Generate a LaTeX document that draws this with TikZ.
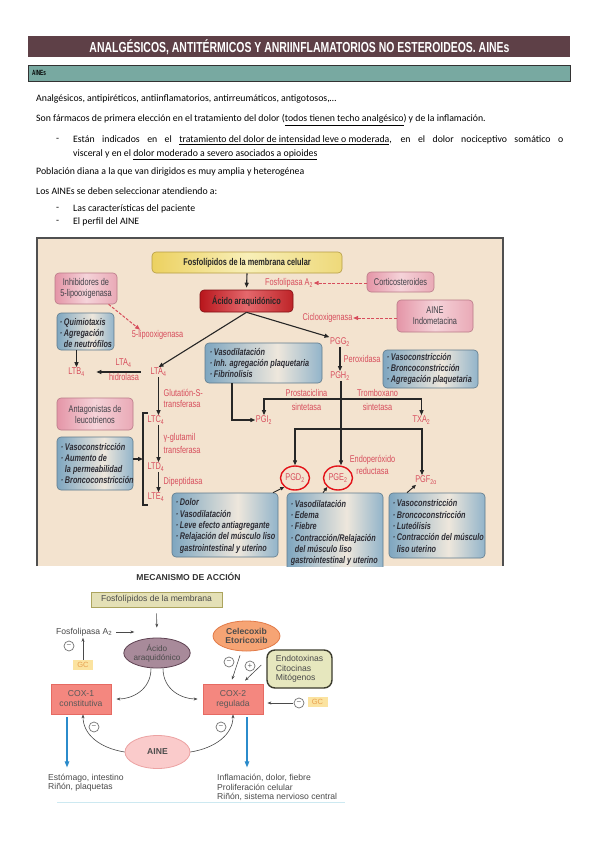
\documentclass[tikz,border=0pt]{standalone}
\usepackage{fontspec}
\setmainfont{Carlito}
\newfontfamily\cnd[FakeStretch=0.75]{Liberation Sans}
\newfontfamily\hdrf[FakeStretch=0.62]{Liberation Sans}
\newfontfamily\arl{Liberation Sans}
\usetikzlibrary{arrows.meta,calc,shapes.geometric}
\newsavebox\fitbox
\newlength\fitlen
\newcommand\fitx[2]{\sbox\fitbox{#2}\setlength\fitlen{\wd\fitbox}\pgfmathsetmacro\fitratio{#1/\fitlen}\scalebox{\fitratio}[1]{\usebox\fitbox}}
\definecolor{hdrbg}{HTML}{5E4047}
\definecolor{tealbar}{HTML}{78A9A1}
\definecolor{figbg}{HTML}{F3E3CF}
\definecolor{frameg}{HTML}{505050}
\definecolor{redt}{HTML}{D74D5C}
\definecolor{blueL}{HTML}{7EA6C0}
\definecolor{blueR}{HTML}{92B4CA}
\definecolor{bmid}{HTML}{EEE7DC}
\definecolor{bbord}{HTML}{5F7A8C}
\definecolor{boxtxt}{HTML}{2C2C34}
\definecolor{pinkL}{HTML}{E495A7}
\definecolor{pinkM}{HTML}{F5D3D9}
\definecolor{pinkR}{HTML}{E9A9B6}
\definecolor{pinkB}{HTML}{B97A88}
\definecolor{yelL}{HTML}{ECD160}
\definecolor{yelM}{HTML}{F8EFB8}
\definecolor{yelR}{HTML}{EED97A}
\definecolor{yelB}{HTML}{B59D45}
\definecolor{acL}{HTML}{B8161C}
\definecolor{acM}{HTML}{E4686C}
\definecolor{acR}{HTML}{BE2428}
\definecolor{ringred}{HTML}{E3141A}
\definecolor{olivefill}{HTML}{E4E0B6}
\definecolor{oliveb}{HTML}{ACA45E}
\definecolor{purp}{HTML}{A88A9A}
\definecolor{purpb}{HTML}{5E4252}
\definecolor{orf}{HTML}{F6A474}
\definecolor{orb}{HTML}{E27A48}
\definecolor{endof}{HTML}{E6E7BE}
\definecolor{endob}{HTML}{3C3C2E}
\definecolor{coxf}{HTML}{F4877F}
\definecolor{coxb}{HTML}{E66A62}
\definecolor{ainef}{HTML}{FACBCB}
\definecolor{aineb}{HTML}{ECA2A2}
\definecolor{gcf}{HTML}{FBE3A0}
\definecolor{gct}{HTML}{E8A050}
\definecolor{arrblue}{HTML}{2B8BCB}
\definecolor{txtg}{HTML}{4A4A4A}
\definecolor{lineblue}{HTML}{CDE9F1}
\pgfdeclarehorizontalshading{bshade}{100bp}{color(0bp)=(blueL); color(25bp)=(blueL); color(56bp)=(bmid); color(75bp)=(blueR); color(100bp)=(blueR)}
\begin{document}
\begin{tikzpicture}[x=1pt,y=-1pt,
  body/.style={anchor=west, inner sep=0, font=\fontsize{9.8}{12}\selectfont},
  lbl/.style={font=\cnd\fontsize{9.8}{10}\selectfont, text=redt, inner sep=0.5pt},
  ybox/.style={rounded corners=4pt, draw=yelB, line width=0.6pt, left color=yelL, right color=yelR, middle color=yelM, font=\cnd\bfseries\fontsize{9.8}{10}\selectfont, text=black!85, inner sep=0},
  acbox/.style={rounded corners=4pt, draw=acL!70!black, line width=0.6pt, left color=acL, right color=acR, middle color=acM, font=\cnd\bfseries\fontsize{9.8}{10}\selectfont, text=black!85, inner sep=0},
  pbox/.style={rounded corners=4pt, draw=pinkB, line width=0.6pt, left color=pinkL, right color=pinkR, middle color=pinkM, font=\cnd\fontsize{9.8}{11}\selectfont, text=boxtxt!90, align=center, inner sep=1pt},
  bbox/.style={rounded corners=4pt, draw=bbord, line width=0.6pt, shading=bshade, inner sep=0},
  btxt/.style={anchor=west, font=\cnd\bfseries\itshape\fontsize{9.7}{11.3}\selectfont, text=boxtxt, align=left, inner sep=0},
  arr/.style={-{Triangle[length=5pt,width=4pt]}, line width=1.1pt, draw=black!85},
  sarr/.style={-{Triangle[length=4pt,width=3.5pt]}, line width=0.9pt, draw=black!85},
  darr/.style={-{Triangle[length=5pt,width=4pt]}, dash pattern=on 3pt off 1.5pt, line width=1pt, draw=redt},
  ring/.style={ellipse, draw=ringred, line width=1.4pt, minimum width=29pt, minimum height=24pt, inner sep=0},
  f2/.style={font=\arl\fontsize{8.6}{9.3}\selectfont, text=txtg, inner sep=0},
  garr/.style={-{Stealth[length=4pt,width=3pt]}, line width=0.6pt, draw=txtg},
  barr/.style={-{Triangle[length=6pt,width=4.5pt]}, line width=1.1pt, draw=arrblue},
  mcirc/.style={circle, draw=black!55, fill=white, line width=0.7pt, minimum size=10pt, inner sep=0, font=\arl\fontsize{8}{8}\selectfont, text=black!60},
  gcbox/.style={fill=gcf, text=gct, font=\arl\fontsize{7.5}{8}\selectfont, minimum width=20pt, minimum height=10pt, inner sep=0},
  coxbox/.style={draw=coxb, fill=coxf, line width=0.8pt, minimum width=60pt, minimum height=30pt, inner sep=0, align=center, font=\arl\fontsize{8.6}{10}\selectfont, text=black!65}
]
\useasboundingbox (0,0) rectangle (599,848);
\fill[white] (0,0) rectangle (599,848);

% header
\fill[hdrbg] (28,36) rectangle (570,57);
\node[text=white, inner sep=0] (hdr) at (299.5,46.8) {\fitx{420pt}{\hdrf\bfseries\fontsize{14.5}{14.5}\selectfont ANALGÉSICOS, ANTITÉRMICOS Y ANRIINFLAMATORIOS NO ESTEROIDEOS. AINEs}};
\filldraw[fill=tealbar, draw=black!80, line width=0.7pt] (28,65) rectangle (570,81.5);
\node[anchor=west, inner sep=0] (sub) at (32,73.2) {\hdrf\bfseries\fontsize{7.5}{7.5}\selectfont AINEs};

% body text
\node[body] (t1) at (36,99) {Analgésicos, antipiréticos, antiinflamatorios, antirreumáticos, antigotosos,…};
\node[body] (t2) at (36,120) {Son fármacos de primera elección en el tratamiento del dolor (\underline{todos tienen techo analgésico}) y de la inflamación.};
\node[body] (d1) at (56,140) {-};
\node[body] (t3) at (73,140) {\makebox[490pt][s]{Están indicados en el \underline{tratamiento del dolor de intensidad leve o moderada}, en el dolor nociceptivo somático o}};
\node[body] (t4) at (73,155) {visceral y en el \underline{dolor moderado a severo asociados a opioides}};
\node[body] (t5) at (36,172) {Población diana a la que van dirigidos es muy amplia y heterogénea};
\node[body] (t6) at (36,191) {Los AINEs se deben seleccionar atendiendo a:};
\node[body] (d2) at (56,209) {-};
\node[body] (t7) at (73,209) {Las características del paciente};
\node[body] (d3) at (56,222) {-};
\node[body] (t8) at (73,222) {El perfil del AINE};

% figure 1
\begin{scope}
\clip (37,238) rectangle (503,566);
\fill[figbg] (37,238) rectangle (503,566);
\node[ybox, minimum width=190pt, minimum height=21pt] (fosf) at (247,262.5) {Fosfolípidos de la membrana celular};
\node[acbox, minimum width=93pt, minimum height=22pt] (acido) at (246.5,301) {Ácido araquidónico};
\draw[arr, shorten >=2pt] (fosf.south) -- (acido.north);
\node[pbox, minimum width=67pt, minimum height=20pt] (cort) at (400.5,282) {Corticosteroides};
\node[lbl] (fa2) at (289,283) {Fosfolipasa A\textsubscript{2}};
\draw[darr] (cort.west |- fa2) -- (fa2.east);
\node[pbox, minimum width=76pt, minimum height=32pt] (aine1) at (435,316) {AINE\\Indometacina};
\node[lbl] (cox) at (327.5,318) {Ciclooxigenasa};
\draw[darr] (aine1.west |- cox) -- (cox.east);
\node[pbox, minimum width=62pt, minimum height=31pt] (inhib) at (86,288.5) {Inhibidores de\\5-lipooxigenasa};
\node[lbl] (lipo) at (157.5,335) {5-lipooxigenasa};
\draw[darr] (inhib.-35) -- ([xshift=9pt]lipo.north west);
\node[bbox, minimum width=57pt, minimum height=37pt] (quim) at (85.5,331.5) {};
\node[btxt] (quimt) at ([shift={(3,1.5)}]quim.west) {·\,Quimiotaxis\\·\,Agregación\\\hphantom{·\,}de neutrófilos};
\node[lbl] (ltb) at (76.5,372) {LTB\textsubscript{4}};
\draw[arr] (quim.south -| ltb) -- (ltb.north);
\node[lbl] (lta) at (158.5,372) {LTA\textsubscript{4}};
\draw[arr, shorten <=9pt, shorten >=11pt] (lta.west) -- (ltb.east);
\node[lbl] (ltah) at (123.5,363) {LTA\textsubscript{4}};
\node[lbl] (hidr) at (124,377) {hidrolasa};
\draw[arr] (acido.south) -- (lta.north);
\node[lbl] (pgg) at (340,342) {PGG\textsubscript{2}};
\draw[arr] (acido.south) -- (pgg.north west);
\node[lbl, anchor=west] (perox) at (343,359) {Peroxidasa};
\node[lbl] (pgh) at (340,376) {PGH\textsubscript{2}};
\draw[arr] (pgg.south) -- (pgh.north);
\node[bbox, minimum width=117pt, minimum height=40pt] (bx1) at (263.5,363) {};
\node[btxt] (bx1t) at ([xshift=5pt]bx1.west) {·\,Vasodilatación\\·\,Inh. agregación plaquetaria\\·\,Fibrinolisis};
\node[bbox, minimum width=95pt, minimum height=38pt] (bx2) at (430.5,369) {};
\node[btxt] (bx2t) at ([xshift=4pt]bx2.west) {·\,Vasoconstricción\\·\,Broncoconstricción\\·\,Agregación plaquetaria};
\node[lbl] (pgi) at (264,420) {PGI\textsubscript{2}};
\draw[arr] ([xshift=-31.5pt]bx1.south) |- (pgi.west);
\node[lbl] (txa) at (421.5,420) {TXA\textsubscript{2}};
\node[lbl] (pgd) at (295,478) {PGD\textsubscript{2}};
\node[lbl] (pge) at (338,478) {PGE\textsubscript{2}};
\node[lbl] (pgf) at (426,480) {PGF\textsubscript{2α}};
\node[ring] (rd) at (pgd) {};
\node[ring] (re) at (pge) {};
\coordinate (j1) at (341,399);
\coordinate (j2) at (341,429);
\draw[arr] (pgh.south -| j1) -- (re.north -| j1);
\draw[arr] (j1) -| (pgi.north);
\draw[arr] (j1) -| (txa.north);
\draw[arr] (j2) -| (rd.north);
\draw[arr] (j2) -| ([xshift=-4pt]pgf.north);
\node[lbl] (pros) at (306.5,393) {Prostaciclina};
\node[lbl] (pros2) at (306.5,407) {sintetasa};
\node[lbl] (trom) at (377.5,393) {Tromboxano};
\node[lbl] (trom2) at (377.5,407) {sintetasa};
\node[lbl] (endo) at (372.5,460) {Endoperóxido};
\node[lbl] (endo2) at (372.5,471) {reductasa};
\node[lbl] (ltc) at (156,420) {LTC\textsubscript{4}};
\node[lbl] (ltd) at (156,467) {LTD\textsubscript{4}};
\node[lbl] (lte) at (156,497) {LTE\textsubscript{4}};
\draw[arr] (lta.south) -- (ltc.north -| lta);
\draw[arr] (ltc.south -| lta) -- (ltd.north -| lta);
\draw[arr] (ltd.south -| lta) -- (lte.north -| lta);
\node[lbl, anchor=west] (glut) at (163,393) {Glutatión-S-};
\node[lbl, anchor=west] (glut2) at (163,403.5) {transferasa};
\node[lbl, anchor=west] (gglu) at (163,438) {γ-glutamil};
\node[lbl, anchor=west] (gglu2) at (163,449.5) {transferasa};
\node[lbl, anchor=west] (dipe) at (163,482) {Dipeptidasa};
\draw[line width=1.1pt, black!85] (148,413) -- (143,413) -- (143,505) -- (148,505);
\coordinate (brk) at (143,459);
\node[pbox, minimum width=76pt, minimum height=32pt] (antag) at (95,414) {Antagonistas de\\leucotrienos};
\node[bbox, minimum width=76pt, minimum height=53pt] (bx3) at (95,463.5) {};
\node[btxt, font=\cnd\bfseries\itshape\fontsize{9.7}{10.9}\selectfont] (bx3t) at ([xshift=4pt]bx3.west) {·\,Vasoconstricción\\·\,Aumento de\\\hphantom{·\,}la permeabilidad\\·\,Broncoconstricción};
\draw[arr] (bx3.east |- brk) -- (brk);
\node[bbox, minimum width=106pt, minimum height=64pt] (bx4) at (225,525) {};
\node[btxt] (bx4t) at ([shift={(4,1)}]bx4.west) {·\,Dolor\\·\,Vasodilatación\\·\,Leve efecto antiagregante\\·\,Relajación del músculo liso\\\hphantom{·\,}gastrointestinal y uterino};
\node[bbox, minimum width=96pt, minimum height=82pt] (bx5) at (335,534) {};
\node[btxt] (bx5t) at ([shift={(4,-1)}]bx5.west) {·\,Vasodilatación\\·\,Edema\\·\,Fiebre\\·\,Contracción/Relajación\\\hphantom{·\,}del músculo liso\\gastrointestinal y uterino};
\node[bbox, minimum width=96pt, minimum height=65pt] (bx6) at (437,525.5) {};
\node[btxt] (bx6t) at ([shift={(4,0.5)}]bx6.west) {·\,Vasoconstricción\\·\,Broncoconstricción\\·\,Luteólisis\\·\,Contracción del músculo\\\hphantom{·\,}liso uterino};
\draw[sarr] ([xshift=48pt]bx4.north) -- (rd.south west);
\draw[sarr] ([xshift=-12pt]bx5.north) -- (re.south west);
\draw[sarr] ([xshift=-30pt]bx6.north) -- ([xshift=-10pt]pgf.south);
\end{scope}
\draw[frameg, line width=1.6pt] (37,566) -- (37,238) -- (503,238) -- (503,566);

% figure 2
\node[font=\arl\bfseries\fontsize{8.6}{9}\selectfont, text=black!80] (mec) at (188.5,577) {MECANISMO DE ACCIÓN};
\node[f2, draw=oliveb, fill=olivefill, line width=0.8pt, minimum width=131pt, minimum height=15pt] (ff) at (156.5,599.5) {Fosfolípidos de la membrana};
\node[f2, ellipse, draw=purpb, fill=purp, line width=0.8pt, minimum width=66pt, minimum height=30pt, align=center, text=black!70, font=\arl\fontsize{8.2}{9.3}\selectfont] (ac2) at (157,653) {Ácido\\araquidónico};
\draw[garr, shorten <=6pt, shorten >=10pt] (ff.south) -- (ac2.north);
\node[f2, anchor=west] (fl2) at (56,632) {Fosfolipasa A\textsubscript{2}};
\draw[garr] ([xshift=4pt]fl2.east) -- ([xshift=22pt]fl2.east);
\node[mcirc] (m1) at (69,646) {−};
\node[gcbox] (gc1) at (83,665) {GC};
\draw[garr] (gc1.north) -- ++(0,-22);
\node[ellipse, draw=orb, fill=orf, line width=0.8pt, minimum width=67pt, minimum height=30pt, inner sep=0, align=center, font=\arl\bfseries\fontsize{8.6}{9.5}\selectfont, text=black!70] (cel) at (246.5,636) {Celecoxib\\Etoricoxib};
\node[mcirc] (m2) at (229,662) {−};
\node[mcirc] (p1) at (250,666) {+};
\node[f2, draw=endob, fill=endof, line width=1.4pt, rounded corners=8pt, minimum width=65pt, minimum height=38pt, align=left] (endo3) at (299.5,669) {Endotoxinas\\Citocinas\\Mitógenos};
\node[coxbox] (cox1) at (81,699) {COX-1\\constitutiva};
\node[coxbox] (cox2) at (233,699) {COX-2\\regulada};
\draw[garr] ([shift={(-6.5,4)}]cel.south) -- ([shift={(-1,-4)}]cox2.north);
\draw[garr] ([shift={(-5,-4)}]endo3.west) -- ([shift={(12,-3)}]cox2.north);
\draw[garr] ([xshift=-6pt]ac2.south) .. controls +(0,22) and +(15,0) .. ([xshift=5pt]cox1.east);
\draw[garr] ([xshift=6pt]ac2.south) .. controls +(0,22) and +(-15,0) .. ([xshift=-5pt]cox2.west);
\node[gcbox] (gc2) at (317.5,702) {GC};
\node[mcirc] (m3) at (299,703) {−};
\draw[garr] ([xshift=-1pt]m3.west) -- ([xshift=4pt]cox2.east |- m3);
\draw[barr, shorten <=3pt] ([xshift=-14pt]cox1.south) -- ++(0,53);
\draw[barr, shorten <=3pt] ([xshift=14pt]cox2.south) -- ++(0,53);
\node[mcirc] (m4) at (94,727) {−};
\node[mcirc] (m5) at (221,727) {−};
\node[ellipse, draw=aineb, fill=ainef, line width=0.8pt, minimum width=65pt, minimum height=33pt, inner sep=0, font=\arl\bfseries\fontsize{8.6}{9}\selectfont, text=black!70] (aine2) at (157.5,752) {AINE};
\draw[garr] (aine2.west) .. controls +(-25,-4) and +(0,20) .. ([xshift=2pt]cox1.south);
\draw[garr] (aine2.east) .. controls +(25,-4) and +(0,20) .. (cox2.south);
\node[f2, anchor=west] (s1) at (48,778) {Estómago, intestino};
\node[f2, anchor=west] (s2) at (48,787.5) {Riñón, plaquetas};
\node[f2, anchor=west] (s3) at (217,778) {Inflamación, dolor, fiebre};
\node[f2, anchor=west] (s4) at (217,787.5) {Proliferación celular};
\node[f2, anchor=west] (s5) at (217,797) {Riñón, sistema nervioso central};
\draw[lineblue, line width=1.2pt] (57,802.5) -- (345,802.5);
\end{tikzpicture}
\end{document}
